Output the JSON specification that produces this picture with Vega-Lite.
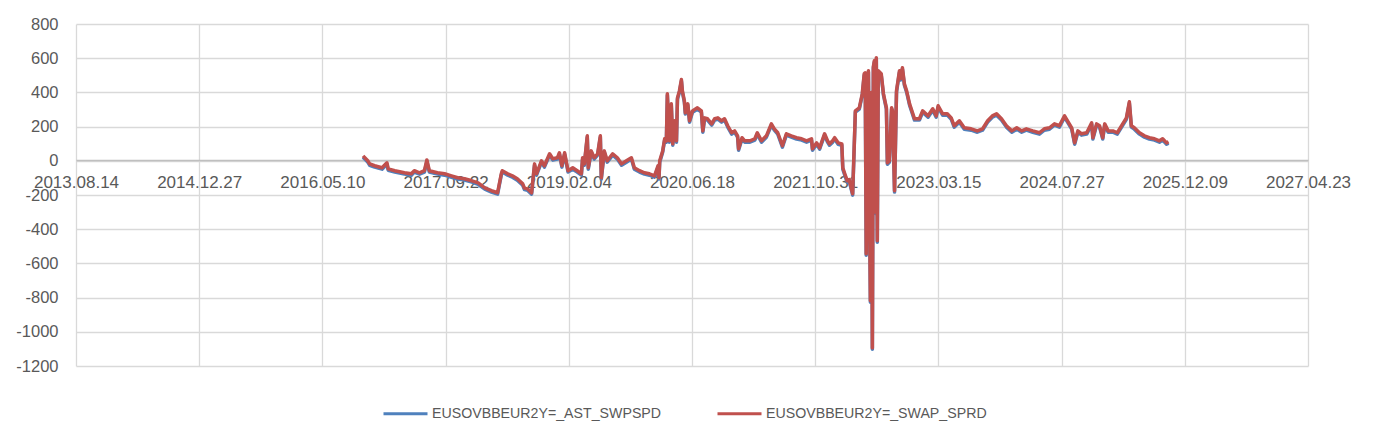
{
  "$schema": "https://vega.github.io/schema/vega-lite/v6.json",
  "width": 1232,
  "height": 342,
  "autosize": {"type": "none"},
  "padding": {"left": 76, "top": 24, "right": 68, "bottom": 73},
  "background": "white",
  "config": {"view": {"stroke": null}, "font": "Liberation Sans"},
  "datasets": {
    "swap": [
      {"d":"2016-10-22","v":29},{"d":"2016-11-10","v":0},{"d":"2016-11-18","v":-18},{"d":"2016-12-08","v":-29},
      {"d":"2017-01-07","v":-41},{"d":"2017-01-27","v":-12},{"d":"2017-02-01","v":-47},{"d":"2017-02-28","v":-58},
      {"d":"2017-04-08","v":-70},{"d":"2017-05-06","v":-76},{"d":"2017-05-18","v":-58},{"d":"2017-06-08","v":-70},
      {"d":"2017-06-28","v":-58},{"d":"2017-07-08","v":5},{"d":"2017-07-18","v":-58},{"d":"2017-08-20","v":-70},
      {"d":"2017-09-18","v":-76},{"d":"2017-10-16","v":-88},{"d":"2017-11-10","v":-99},{"d":"2017-12-08","v":-105},
      {"d":"2018-01-07","v":-117},{"d":"2018-02-01","v":-129},{"d":"2018-02-28","v":-158},{"d":"2018-03-27","v":-175},
      {"d":"2018-04-21","v":-187},{"d":"2018-05-06","v":-76},{"d":"2018-05-10","v":-58},{"d":"2018-06-01","v":-76},
      {"d":"2018-06-20","v":-88},{"d":"2018-07-10","v":-105},{"d":"2018-08-01","v":-135},{"d":"2018-08-08","v":-160},
      {"d":"2018-08-20","v":-164},{"d":"2018-09-06","v":-187},{"d":"2018-09-18","v":-18},{"d":"2018-09-26","v":-76},
      {"d":"2018-10-16","v":0},{"d":"2018-10-28","v":-29},{"d":"2018-11-18","v":41},{"d":"2018-12-01","v":12},
      {"d":"2018-12-20","v":18},{"d":"2018-12-28","v":47},{"d":"2019-01-07","v":-29},{"d":"2019-01-18","v":47},
      {"d":"2019-02-01","v":-58},{"d":"2019-02-20","v":-41},{"d":"2019-03-10","v":-58},{"d":"2019-03-27","v":-76},
      {"d":"2019-04-01","v":18},{"d":"2019-04-08","v":-18},{"d":"2019-04-20","v":146},{"d":"2019-04-24","v":-41},
      {"d":"2019-05-06","v":58},{"d":"2019-05-18","v":18},{"d":"2019-06-01","v":41},{"d":"2019-06-12","v":146},
      {"d":"2019-06-16","v":-99},{"d":"2019-06-28","v":58},{"d":"2019-07-10","v":0},{"d":"2019-08-01","v":41},
      {"d":"2019-08-20","v":18},{"d":"2019-09-06","v":-18},{"d":"2019-09-26","v":0},{"d":"2019-10-16","v":18},
      {"d":"2019-10-28","v":-41},{"d":"2019-11-18","v":-58},{"d":"2019-12-08","v":-70},{"d":"2019-12-28","v":-76},
      {"d":"2020-01-18","v":-88},{"d":"2020-02-01","v":-29},{"d":"2020-02-05","v":-99},{"d":"2020-02-08","v":0},
      {"d":"2020-02-20","v":58},{"d":"2020-02-28","v":129},{"d":"2020-03-06","v":117},{"d":"2020-03-10","v":392},
      {"d":"2020-03-18","v":117},{"d":"2020-03-26","v":333},{"d":"2020-04-01","v":99},{"d":"2020-04-08","v":234},
      {"d":"2020-04-16","v":117},{"d":"2020-04-20","v":368},{"d":"2020-04-28","v":409},{"d":"2020-05-06","v":475},
      {"d":"2020-05-10","v":409},{"d":"2020-05-18","v":351},{"d":"2020-05-22","v":281},{"d":"2020-06-01","v":333},
      {"d":"2020-06-08","v":234},{"d":"2020-06-20","v":292},{"d":"2020-07-10","v":310},{"d":"2020-07-26","v":292},
      {"d":"2020-08-01","v":175},{"d":"2020-08-08","v":251},{"d":"2020-08-20","v":246},{"d":"2020-09-06","v":216},
      {"d":"2020-09-18","v":246},{"d":"2020-10-01","v":251},{"d":"2020-10-16","v":234},{"d":"2020-10-28","v":246},
      {"d":"2020-11-10","v":205},{"d":"2020-11-26","v":164},{"d":"2020-12-08","v":175},{"d":"2020-12-20","v":146},
      {"d":"2020-12-24","v":70},{"d":"2021-01-07","v":135},{"d":"2021-01-18","v":117},{"d":"2021-02-08","v":117},
      {"d":"2021-02-28","v":129},{"d":"2021-03-10","v":164},{"d":"2021-03-27","v":117},{"d":"2021-04-16","v":146},
      {"d":"2021-05-06","v":216},{"d":"2021-05-18","v":187},{"d":"2021-06-01","v":164},{"d":"2021-06-20","v":88},
      {"d":"2021-07-06","v":158},{"d":"2021-07-26","v":146},{"d":"2021-08-16","v":135},{"d":"2021-09-06","v":129},
      {"d":"2021-09-26","v":117},{"d":"2021-10-16","v":129},{"d":"2021-10-20","v":70},{"d":"2021-11-06","v":105},
      {"d":"2021-11-18","v":76},{"d":"2021-12-08","v":158},{"d":"2021-12-20","v":117},{"d":"2021-12-28","v":99},
      {"d":"2022-01-10","v":117},{"d":"2022-01-18","v":135},{"d":"2022-02-01","v":105},{"d":"2022-02-16","v":99},
      {"d":"2022-02-20","v":-41},{"d":"2022-02-28","v":-76},{"d":"2022-03-10","v":-117},{"d":"2022-03-18","v":-110},
      {"d":"2022-03-27","v":-164},{"d":"2022-04-01","v":-193},{"d":"2022-04-12","v":292},{"d":"2022-04-28","v":310},
      {"d":"2022-05-10","v":392},{"d":"2022-05-18","v":509},{"d":"2022-05-22","v":515},{"d":"2022-05-26","v":-544},
      {"d":"2022-06-01","v":480},{"d":"2022-06-04","v":526},{"d":"2022-06-08","v":-200},{"d":"2022-06-12","v":-819},
      {"d":"2022-06-16","v":400},{"d":"2022-06-20","v":-1094},{"d":"2022-06-24","v":550},{"d":"2022-06-28","v":585},
      {"d":"2022-07-02","v":-300},{"d":"2022-07-06","v":602},{"d":"2022-07-10","v":-468},{"d":"2022-07-14","v":526},
      {"d":"2022-07-26","v":509},{"d":"2022-08-04","v":392},{"d":"2022-08-16","v":310},{"d":"2022-08-20","v":-12},
      {"d":"2022-08-28","v":0},{"d":"2022-09-06","v":310},{"d":"2022-09-10","v":292},{"d":"2022-09-18","v":-175},
      {"d":"2022-09-26","v":409},{"d":"2022-10-08","v":526},{"d":"2022-10-12","v":480},{"d":"2022-10-20","v":544},
      {"d":"2022-10-28","v":450},{"d":"2022-11-06","v":409},{"d":"2022-11-18","v":333},{"d":"2022-12-08","v":246},
      {"d":"2022-12-28","v":246},{"d":"2023-01-10","v":292},{"d":"2023-02-01","v":263},{"d":"2023-02-20","v":304},
      {"d":"2023-03-06","v":263},{"d":"2023-03-14","v":322},{"d":"2023-04-01","v":275},{"d":"2023-04-20","v":275},
      {"d":"2023-05-06","v":251},{"d":"2023-05-18","v":205},{"d":"2023-06-08","v":234},{"d":"2023-06-28","v":193},
      {"d":"2023-07-26","v":187},{"d":"2023-08-20","v":175},{"d":"2023-09-10","v":187},{"d":"2023-10-01","v":234},
      {"d":"2023-10-20","v":263},{"d":"2023-11-06","v":275},{"d":"2023-11-26","v":246},{"d":"2023-12-16","v":205},
      {"d":"2024-01-07","v":175},{"d":"2024-01-27","v":193},{"d":"2024-02-16","v":175},{"d":"2024-03-06","v":187},
      {"d":"2024-04-01","v":175},{"d":"2024-04-28","v":164},{"d":"2024-05-18","v":187},{"d":"2024-06-08","v":193},
      {"d":"2024-06-28","v":216},{"d":"2024-07-18","v":205},{"d":"2024-08-08","v":263},{"d":"2024-08-20","v":234},
      {"d":"2024-09-06","v":193},{"d":"2024-09-18","v":105},{"d":"2024-10-01","v":175},{"d":"2024-10-16","v":158},
      {"d":"2024-11-06","v":164},{"d":"2024-11-26","v":222},{"d":"2024-12-01","v":135},{"d":"2024-12-16","v":216},
      {"d":"2024-12-28","v":205},{"d":"2025-01-10","v":135},{"d":"2025-01-18","v":216},{"d":"2025-02-01","v":175},
      {"d":"2025-02-20","v":175},{"d":"2025-03-10","v":164},{"d":"2025-04-01","v":216},{"d":"2025-04-16","v":251},
      {"d":"2025-04-28","v":345},{"d":"2025-05-06","v":205},{"d":"2025-05-18","v":193},{"d":"2025-06-08","v":164},
      {"d":"2025-06-28","v":146},{"d":"2025-07-18","v":135},{"d":"2025-08-08","v":129},{"d":"2025-08-28","v":117},
      {"d":"2025-09-10","v":129},{"d":"2025-09-26","v":105},{"d":"2025-10-04","v":111}
    ],
    "ast": [
      {"d":"2016-10-22","v":21},{"d":"2016-11-10","v":-8},{"d":"2016-11-18","v":-26},{"d":"2016-12-08","v":-37},
      {"d":"2017-01-07","v":-49},{"d":"2017-01-27","v":-20},{"d":"2017-02-01","v":-55},{"d":"2017-02-28","v":-66},
      {"d":"2017-04-08","v":-78},{"d":"2017-05-06","v":-84},{"d":"2017-05-18","v":-66},{"d":"2017-06-08","v":-78},
      {"d":"2017-06-28","v":-66},{"d":"2017-07-08","v":-3},{"d":"2017-07-18","v":-66},{"d":"2017-08-20","v":-78},
      {"d":"2017-09-18","v":-84},{"d":"2017-10-16","v":-96},{"d":"2017-11-10","v":-107},{"d":"2017-12-08","v":-113},
      {"d":"2018-01-07","v":-125},{"d":"2018-02-01","v":-137},{"d":"2018-02-28","v":-166},{"d":"2018-03-27","v":-183},
      {"d":"2018-04-21","v":-195},{"d":"2018-05-06","v":-84},{"d":"2018-05-10","v":-66},{"d":"2018-06-01","v":-84},
      {"d":"2018-06-20","v":-96},{"d":"2018-07-10","v":-113},{"d":"2018-08-01","v":-143},{"d":"2018-08-08","v":-168},
      {"d":"2018-08-20","v":-172},{"d":"2018-09-06","v":-195},{"d":"2018-09-18","v":-26},{"d":"2018-09-26","v":-84},
      {"d":"2018-10-16","v":-8},{"d":"2018-10-28","v":-37},{"d":"2018-11-18","v":33},{"d":"2018-12-01","v":4},
      {"d":"2018-12-20","v":10},{"d":"2018-12-28","v":39},{"d":"2019-01-07","v":-37},{"d":"2019-01-18","v":39},
      {"d":"2019-02-01","v":-66},{"d":"2019-02-20","v":-49},{"d":"2019-03-10","v":-66},{"d":"2019-03-27","v":-84},
      {"d":"2019-04-01","v":10},{"d":"2019-04-08","v":-26},{"d":"2019-04-20","v":138},{"d":"2019-04-24","v":-49},
      {"d":"2019-05-06","v":50},{"d":"2019-05-18","v":10},{"d":"2019-06-01","v":33},{"d":"2019-06-12","v":138},
      {"d":"2019-06-16","v":-107},{"d":"2019-06-28","v":50},{"d":"2019-07-10","v":-8},{"d":"2019-08-01","v":33},
      {"d":"2019-08-20","v":10},{"d":"2019-09-06","v":-26},{"d":"2019-09-26","v":-8},{"d":"2019-10-16","v":10},
      {"d":"2019-10-28","v":-49},{"d":"2019-11-18","v":-66},{"d":"2019-12-08","v":-78},{"d":"2019-12-28","v":-84},
      {"d":"2020-01-18","v":-96},{"d":"2020-02-01","v":-37},{"d":"2020-02-05","v":-107},{"d":"2020-02-08","v":-8},
      {"d":"2020-02-20","v":50},{"d":"2020-02-28","v":121},{"d":"2020-03-06","v":109},{"d":"2020-03-10","v":384},
      {"d":"2020-03-18","v":109},{"d":"2020-03-26","v":325},{"d":"2020-04-01","v":91},{"d":"2020-04-08","v":226},
      {"d":"2020-04-16","v":109},{"d":"2020-04-20","v":360},{"d":"2020-04-28","v":401},{"d":"2020-05-06","v":467},
      {"d":"2020-05-10","v":401},{"d":"2020-05-18","v":343},{"d":"2020-05-22","v":273},{"d":"2020-06-01","v":325},
      {"d":"2020-06-08","v":226},{"d":"2020-06-20","v":284},{"d":"2020-07-10","v":302},{"d":"2020-07-26","v":284},
      {"d":"2020-08-01","v":167},{"d":"2020-08-08","v":243},{"d":"2020-08-20","v":238},{"d":"2020-09-06","v":208},
      {"d":"2020-09-18","v":238},{"d":"2020-10-01","v":243},{"d":"2020-10-16","v":226},{"d":"2020-10-28","v":238},
      {"d":"2020-11-10","v":197},{"d":"2020-11-26","v":156},{"d":"2020-12-08","v":167},{"d":"2020-12-20","v":138},
      {"d":"2020-12-24","v":62},{"d":"2021-01-07","v":127},{"d":"2021-01-18","v":109},{"d":"2021-02-08","v":109},
      {"d":"2021-02-28","v":121},{"d":"2021-03-10","v":156},{"d":"2021-03-27","v":109},{"d":"2021-04-16","v":138},
      {"d":"2021-05-06","v":208},{"d":"2021-05-18","v":179},{"d":"2021-06-01","v":156},{"d":"2021-06-20","v":80},
      {"d":"2021-07-06","v":150},{"d":"2021-07-26","v":138},{"d":"2021-08-16","v":127},{"d":"2021-09-06","v":121},
      {"d":"2021-09-26","v":109},{"d":"2021-10-16","v":121},{"d":"2021-10-20","v":62},{"d":"2021-11-06","v":97},
      {"d":"2021-11-18","v":68},{"d":"2021-12-08","v":150},{"d":"2021-12-20","v":109},{"d":"2021-12-28","v":91},
      {"d":"2022-01-10","v":109},{"d":"2022-01-18","v":127},{"d":"2022-02-01","v":97},{"d":"2022-02-16","v":91},
      {"d":"2022-02-20","v":-49},{"d":"2022-02-28","v":-84},{"d":"2022-03-10","v":-125},{"d":"2022-03-18","v":-118},
      {"d":"2022-03-27","v":-172},{"d":"2022-04-01","v":-201},{"d":"2022-04-12","v":284},{"d":"2022-04-28","v":302},
      {"d":"2022-05-10","v":384},{"d":"2022-05-18","v":501},{"d":"2022-05-22","v":507},{"d":"2022-05-26","v":-552},
      {"d":"2022-06-01","v":472},{"d":"2022-06-04","v":518},{"d":"2022-06-08","v":-208},{"d":"2022-06-12","v":-827},
      {"d":"2022-06-16","v":392},{"d":"2022-06-20","v":-1102},{"d":"2022-06-24","v":542},{"d":"2022-06-28","v":577},
      {"d":"2022-07-02","v":-308},{"d":"2022-07-06","v":594},{"d":"2022-07-10","v":-476},{"d":"2022-07-14","v":518},
      {"d":"2022-07-26","v":501},{"d":"2022-08-04","v":384},{"d":"2022-08-16","v":302},{"d":"2022-08-20","v":-20},
      {"d":"2022-08-28","v":-8},{"d":"2022-09-06","v":302},{"d":"2022-09-10","v":284},{"d":"2022-09-18","v":-183},
      {"d":"2022-09-26","v":401},{"d":"2022-10-08","v":518},{"d":"2022-10-12","v":472},{"d":"2022-10-20","v":536},
      {"d":"2022-10-28","v":442},{"d":"2022-11-06","v":401},{"d":"2022-11-18","v":325},{"d":"2022-12-08","v":238},
      {"d":"2022-12-28","v":238},{"d":"2023-01-10","v":284},{"d":"2023-02-01","v":255},{"d":"2023-02-20","v":296},
      {"d":"2023-03-06","v":255},{"d":"2023-03-14","v":314},{"d":"2023-04-01","v":267},{"d":"2023-04-20","v":267},
      {"d":"2023-05-06","v":243},{"d":"2023-05-18","v":197},{"d":"2023-06-08","v":226},{"d":"2023-06-28","v":185},
      {"d":"2023-07-26","v":179},{"d":"2023-08-20","v":167},{"d":"2023-09-10","v":179},{"d":"2023-10-01","v":226},
      {"d":"2023-10-20","v":255},{"d":"2023-11-06","v":267},{"d":"2023-11-26","v":238},{"d":"2023-12-16","v":197},
      {"d":"2024-01-07","v":167},{"d":"2024-01-27","v":185},{"d":"2024-02-16","v":167},{"d":"2024-03-06","v":179},
      {"d":"2024-04-01","v":167},{"d":"2024-04-28","v":156},{"d":"2024-05-18","v":179},{"d":"2024-06-08","v":185},
      {"d":"2024-06-28","v":208},{"d":"2024-07-18","v":197},{"d":"2024-08-08","v":255},{"d":"2024-08-20","v":226},
      {"d":"2024-09-06","v":185},{"d":"2024-09-18","v":97},{"d":"2024-10-01","v":167},{"d":"2024-10-16","v":150},
      {"d":"2024-11-06","v":156},{"d":"2024-11-26","v":214},{"d":"2024-12-01","v":127},{"d":"2024-12-16","v":208},
      {"d":"2024-12-28","v":197},{"d":"2025-01-10","v":127},{"d":"2025-01-18","v":208},{"d":"2025-02-01","v":167},
      {"d":"2025-02-20","v":167},{"d":"2025-03-10","v":156},{"d":"2025-04-01","v":208},{"d":"2025-04-16","v":243},
      {"d":"2025-04-28","v":337},{"d":"2025-05-06","v":197},{"d":"2025-05-18","v":185},{"d":"2025-06-08","v":156},
      {"d":"2025-06-28","v":138},{"d":"2025-07-18","v":127},{"d":"2025-08-08","v":121},{"d":"2025-08-28","v":109},
      {"d":"2025-09-10","v":121},{"d":"2025-09-26","v":97},{"d":"2025-10-04","v":103}
    ]
  },
  "encoding": {
    "x": {
      "field": "d", "type": "temporal", "title": null,
      "scale": {"type": "utc", "nice": false,
        "domain": [{"year": 2013, "month": 8, "date": 14, "utc": true}, {"year": 2027, "month": 4, "date": 23, "utc": true}]},
      "axis": {
        "values": [
          {"year": 2013, "month": 8, "date": 14, "utc": true},
          {"year": 2014, "month": 12, "date": 27, "utc": true},
          {"year": 2016, "month": 5, "date": 10, "utc": true},
          {"year": 2017, "month": 9, "date": 22, "utc": true},
          {"year": 2019, "month": 2, "date": 4, "utc": true},
          {"year": 2020, "month": 6, "date": 18, "utc": true},
          {"year": 2021, "month": 10, "date": 31, "utc": true},
          {"year": 2023, "month": 3, "date": 15, "utc": true},
          {"year": 2024, "month": 7, "date": 27, "utc": true},
          {"year": 2025, "month": 12, "date": 9, "utc": true},
          {"year": 2027, "month": 4, "date": 23, "utc": true}
        ],
        "labelExpr": "utcFormat(datum.value, '%Y.%m.%d')",
        "offset": -206,
        "grid": true, "gridColor": "#d9d9d9", "gridWidth": 1.3,
        "ticks": false, "domain": true, "domainColor": "#bfbfbf", "domainWidth": 1.3,
        "labelFontSize": 17, "labelColor": "#595959", "labelPadding": 14,
        "labelOverlap": false, "labelBound": false, "labelFlush": false
      }
    },
    "y": {
      "field": "v", "type": "quantitative", "title": null,
      "scale": {"domain": [-1200, 800], "nice": false, "zero": false},
      "axis": {
        "values": [-1200, -1000, -800, -600, -400, -200, 0, 200, 400, 600, 800],
        "labelExpr": "'' + datum.value",
        "grid": true, "gridColor": "#d9d9d9", "gridWidth": 1.3,
        "ticks": false, "domain": false,
        "labelFontSize": 16.5, "labelColor": "#595959", "labelPadding": 18
      }
    },
    "color": {
      "scale": {"domain": ["EUSOVBBEUR2Y=_AST_SWPSPD", "EUSOVBBEUR2Y=_SWAP_SPRD"], "range": ["#4f81bd", "#c0504d"]},
      "legend": {
        "title": null, "orient": "none", "legendX": 306, "legendY": 366,
        "direction": "horizontal", "symbolType": "stroke", "symbolSize": 1936, "symbolStrokeWidth": 3,
        "labelFontSize": 14.2, "labelFont": "Liberation Sans", "labelColor": "#595959",
        "labelOffset": 3, "columnPadding": 49, "padding": 0, "labelLimit": 400
      }
    }
  },
  "layer": [
    {
      "data": {"name": "ast"},
      "mark": {"type": "line", "strokeWidth": 3.5, "strokeJoin": "round"},
      "encoding": {"color": {"datum": "EUSOVBBEUR2Y=_AST_SWPSPD"}}
    },
    {
      "data": {"name": "swap"},
      "mark": {"type": "line", "strokeWidth": 3.5, "strokeJoin": "round"},
      "encoding": {"color": {"datum": "EUSOVBBEUR2Y=_SWAP_SPRD"}}
    }
  ]
}
